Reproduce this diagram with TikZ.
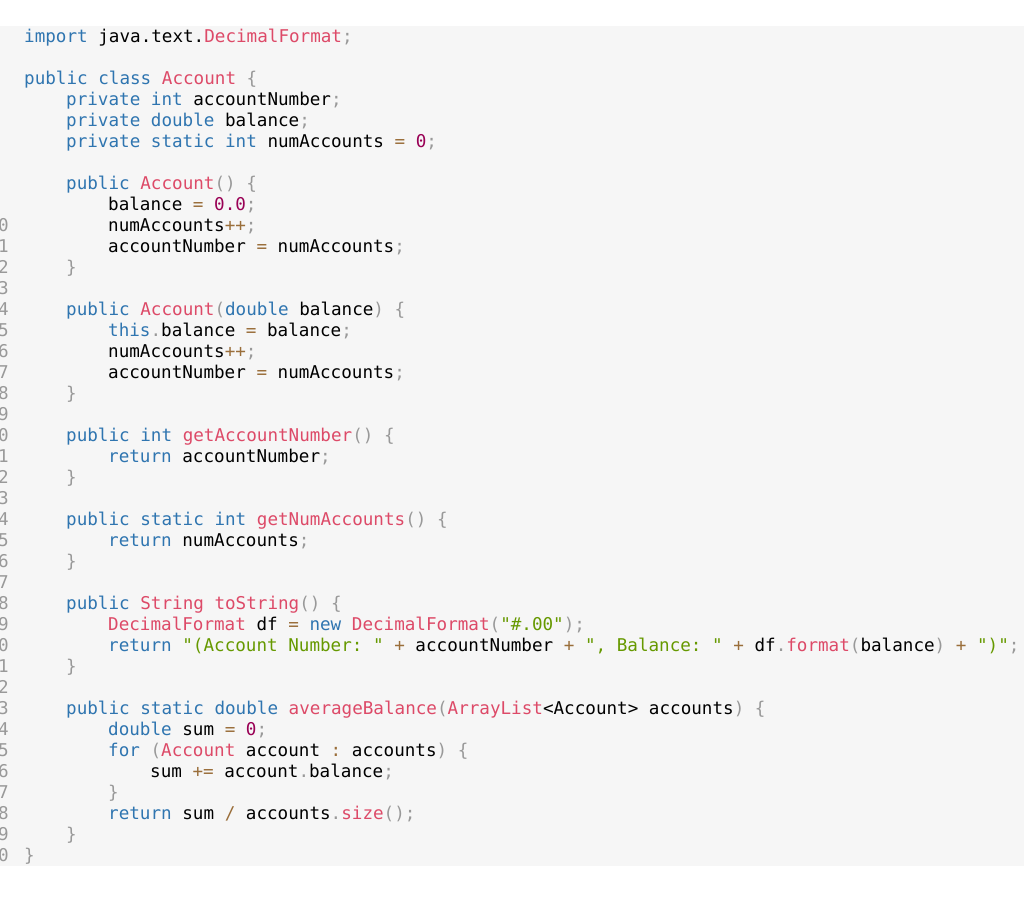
\documentclass[tikz,border=0pt]{standalone}
\usepackage{fontspec}
\setmonofont{DejaVu Sans Mono}
\definecolor{kwc}{HTML}{2F75B0}
\definecolor{fnc}{HTML}{DD4A68}
\definecolor{nmc}{HTML}{990055}
\definecolor{stc}{HTML}{669900}
\definecolor{opc}{HTML}{9A6E3A}
\definecolor{puc}{HTML}{999999}
\definecolor{bgc}{HTML}{F6F6F6}
\newcommand{\kw}[1]{\textcolor{kwc}{#1}}
\newcommand{\fn}[1]{\textcolor{fnc}{#1}}
\newcommand{\nm}[1]{\textcolor{nmc}{#1}}
\newcommand{\st}[1]{\textcolor{stc}{#1}}
\newcommand{\op}[1]{\textcolor{opc}{#1}}
\newcommand{\pu}[1]{\textcolor{puc}{#1}}
\newcommand{\cl}[3]{\node[code] (l#1) at ({24+42*#2}, {-40-21*#1}) {#3};}
\newcommand{\lnumnode}[2]{\node[lnum] (n#1) at (-2, {-40-21*#1}) {#2};}
\begin{document}
\begin{tikzpicture}[x=1pt,y=1pt,
  code/.style={anchor=mid west,inner sep=0pt,font=\ttfamily\fontsize{17.6}{20}\selectfont,text=black},
  lnum/.style={anchor=mid west,inner sep=0pt,font=\ttfamily\fontsize{17.6}{20}\selectfont,text=puc}]
\useasboundingbox (0,0) rectangle (1024,-912);
\fill[white] (0,0) rectangle (1024,-912);
\fill[bgc] (0,-26) rectangle (1024,-866);
\cl{0}{0}{\kw{import} java.text.\fn{DecimalFormat}\pu{;}}
\cl{2}{0}{\kw{public class} \fn{Account} \pu{\{}}
\cl{3}{1}{\kw{private int} accountNumber\pu{;}}
\cl{4}{1}{\kw{private double} balance\pu{;}}
\cl{5}{1}{\kw{private static int} numAccounts \op{=} \nm{0}\pu{;}}
\cl{7}{1}{\kw{public} \fn{Account}\pu{() \{}}
\cl{8}{2}{balance \op{=} \nm{0.0}\pu{;}}
\cl{9}{2}{numAccounts\op{++}\pu{;}}
\cl{10}{2}{accountNumber \op{=} numAccounts\pu{;}}
\cl{11}{1}{\pu{\}}}
\cl{13}{1}{\kw{public} \fn{Account}\pu{(}\kw{double} balance\pu{) \{}}
\cl{14}{2}{\kw{this}\pu{.}balance \op{=} balance\pu{;}}
\cl{15}{2}{numAccounts\op{++}\pu{;}}
\cl{16}{2}{accountNumber \op{=} numAccounts\pu{;}}
\cl{17}{1}{\pu{\}}}
\cl{19}{1}{\kw{public int} \fn{getAccountNumber}\pu{() \{}}
\cl{20}{2}{\kw{return} accountNumber\pu{;}}
\cl{21}{1}{\pu{\}}}
\cl{23}{1}{\kw{public static int} \fn{getNumAccounts}\pu{() \{}}
\cl{24}{2}{\kw{return} numAccounts\pu{;}}
\cl{25}{1}{\pu{\}}}
\cl{27}{1}{\kw{public} \fn{String} \fn{toString}\pu{() \{}}
\cl{28}{2}{\fn{DecimalFormat} df \op{=} \kw{new} \fn{DecimalFormat}\pu{(}\st{"\#.00"}\pu{);}}
\cl{29}{2}{\kw{return} \st{"(Account Number: "} \op{+} accountNumber \op{+} \st{", Balance: "} \op{+} df\pu{.}\fn{format}\pu{(}balance\pu{)} \op{+} \st{")"}\pu{;}}
\cl{30}{1}{\pu{\}}}
\cl{32}{1}{\kw{public static double} \fn{averageBalance}\pu{(}\fn{ArrayList}<Account> accounts\pu{) \{}}
\cl{33}{2}{\kw{double} sum \op{=} \nm{0}\pu{;}}
\cl{34}{2}{\kw{for} \pu{(}\fn{Account} account \op{:} accounts\pu{) \{}}
\cl{35}{3}{sum \op{+=} account\pu{.}balance\pu{;}}
\cl{36}{2}{\pu{\}}}
\cl{37}{2}{\kw{return} sum \op{/} accounts\pu{.}\fn{size}\pu{();}}
\cl{38}{1}{\pu{\}}}
\cl{39}{0}{\pu{\}}}
\foreach \i in {9,...,39}{
  \pgfmathtruncatemacro{\d}{mod(\i+1,10)}
  \lnumnode{\i}{\d}
}
\end{tikzpicture}
\end{document}
